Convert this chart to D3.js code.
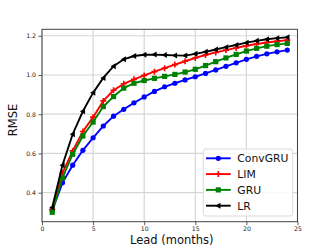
<!DOCTYPE html>
<html>
<head>
<meta charset="utf-8">
<script src="https://cdn.jsdelivr.net/npm/d3@7"></script>
<style>
  body { margin: 0; background: #fff; }
  text { font-family: "DejaVu Sans", sans-serif; }
</style>
</head>
<body>
<script>
const leads = d3.range(1, 25)
const convgru = [0.31, 0.45, 0.54, 0.616, 0.68, 0.74, 0.79, 0.825, 0.858, 0.888, 0.916, 0.94, 0.958, 0.975, 0.991, 1.008, 1.026, 1.044, 1.062, 1.08, 1.095, 1.108, 1.118, 1.127]
const lim = [0.315, 0.50, 0.613, 0.712, 0.785, 0.868, 0.922, 0.955, 0.978, 0.998, 1.017, 1.035, 1.053, 1.07, 1.087, 1.102, 1.115, 1.127, 1.138, 1.149, 1.158, 1.166, 1.172, 1.178]
const gru = [0.30, 0.475, 0.596, 0.689, 0.76, 0.839, 0.89, 0.933, 0.958, 0.972, 0.983, 0.993, 1.003, 1.015, 1.029, 1.048, 1.068, 1.087, 1.105, 1.122, 1.136, 1.147, 1.155, 1.161]
const lr = [0.325, 0.54, 0.698, 0.815, 0.91, 0.985, 1.045, 1.08, 1.097, 1.103, 1.104, 1.102, 1.10, 1.099, 1.108, 1.118, 1.13, 1.142, 1.153, 1.165, 1.174, 1.182, 1.188, 1.192]
const xTicks = [0, 5, 10, 15, 20, 25]
const yTicks = [0.4, 0.6, 0.8, 1.0, 1.2]

const series = [
  { name: 'ConvGRU', values: convgru, color: 'blue', marker: 'circle' },
  { name: 'LIM', values: lim, color: 'red', marker: 'plus' },
  { name: 'GRU', values: gru, color: 'green', marker: 'square' },
  { name: 'LR', values: lr, color: 'black', marker: 'tri' }
]

const width = 332
const height = 249
const plot = { left: 42, right: 297.5, top: 29.3, bottom: 221.7 }

const svg = d3.select('body').append('svg')
  .attr('width', width)
  .attr('height', height)

const x = d3.scaleLinear().domain([0, 25]).range([plot.left, plot.right])
const y = d3.scaleLinear().domain([0.252, 1.233]).range([plot.bottom, plot.top])

// grid
svg.append('g').selectAll('line').data(xTicks).join('line')
  .attr('x1', (d) => x(d)).attr('x2', (d) => x(d))
  .attr('y1', plot.top).attr('y2', plot.bottom)
  .attr('stroke', '#d6d6d6').attr('stroke-width', 1.2)
svg.append('g').selectAll('line').data(yTicks).join('line')
  .attr('y1', (d) => y(d)).attr('y2', (d) => y(d))
  .attr('x1', plot.left).attr('x2', plot.right)
  .attr('stroke', '#d6d6d6').attr('stroke-width', 1.2)

// axes
const xAxis = svg.append('g')
  .attr('transform', `translate(0,${plot.bottom})`)
  .call(d3.axisBottom(x).tickValues(xTicks).tickFormat(d3.format('d')).tickSize(3.5).tickSizeOuter(0))
const yAxis = svg.append('g')
  .attr('transform', `translate(${plot.left},0)`)
  .call(d3.axisLeft(y).tickValues(yTicks).tickFormat(d3.format('.1f')).tickSize(3.5).tickSizeOuter(0))

for (const ax of [xAxis, yAxis]) {
  ax.select('.domain').remove()
  ax.selectAll('.tick line').attr('stroke', '#333').attr('stroke-width', 0.8)
  ax.selectAll('.tick text').attr('fill', '#222').style('font-size', '6.2px')
}
xAxis.selectAll('.tick text').attr('dy', '0.75em').attr('y', 5)
yAxis.selectAll('.tick text').attr('x', -6)

// frame
svg.append('rect')
  .attr('x', plot.left).attr('y', plot.top)
  .attr('width', plot.right - plot.left).attr('height', plot.bottom - plot.top)
  .attr('fill', 'none').attr('stroke', '#444').attr('stroke-width', 1)

// lines and markers
const line = d3.line()
  .x((d, i) => x(leads[i]))
  .y((d) => y(d))

function drawMarker (g, type, color) {
  if (type === 'circle') {
    g.append('circle').attr('r', 2.6).attr('fill', color)
  } else if (type === 'square') {
    g.append('rect').attr('x', -2.6).attr('y', -2.6).attr('width', 5.2).attr('height', 5.2).attr('fill', color)
  } else if (type === 'plus') {
    g.append('path').attr('d', 'M-3,0H3M0,-3V3').attr('stroke', color).attr('stroke-width', 1.6)
  } else if (type === 'tri') {
    g.append('path').attr('d', 'M-3,0L2.2,-3L2.2,3Z').attr('fill', color)
  }
}

for (const s of series) {
  const g = svg.append('g')
  g.append('path')
    .datum(s.values)
    .attr('d', line)
    .attr('fill', 'none')
    .attr('stroke', s.color)
    .attr('stroke-width', 1.9)
  s.values.forEach((v, i) => {
    const m = g.append('g').attr('transform', `translate(${x(leads[i])},${y(v)})`)
    drawMarker(m, s.marker, s.color)
  })
}

// axis labels
svg.append('text')
  .attr('x', (plot.left + plot.right) / 2 + 2)
  .attr('y', 244)
  .attr('text-anchor', 'middle')
  .style('font-size', '11.5px')
  .attr('fill', '#111')
  .text('Lead (months)')

svg.append('text')
  .attr('transform', 'translate(17,120) rotate(-90)')
  .attr('text-anchor', 'middle')
  .style('font-size', '11.5px')
  .attr('fill', '#111')
  .text('RMSE')

// legend
const legend = svg.append('g')
legend.append('rect')
  .attr('x', 203.3).attr('y', 149).attr('width', 89.4).attr('height', 67)
  .attr('rx', 2.5)
  .attr('fill', 'white').attr('fill-opacity', 0.85)
  .attr('stroke', '#d0d0d0').attr('stroke-width', 0.8)

series.forEach((s, i) => {
  const yy = 158.3 + i * 15.8
  const row = legend.append('g').attr('transform', `translate(0,${yy})`)
  row.append('line')
    .attr('x1', 206).attr('x2', 230.7)
    .attr('stroke', s.color).attr('stroke-width', 1.9)
  drawMarker(row.append('g').attr('transform', 'translate(218.3,0)'), s.marker, s.color)
  row.append('text')
    .attr('x', 237.3).attr('y', 0).attr('dy', '0.36em')
    .style('font-size', '10.8px')
    .attr('fill', '#111')
    .text(s.name)
})
</script>
</body>
</html>
